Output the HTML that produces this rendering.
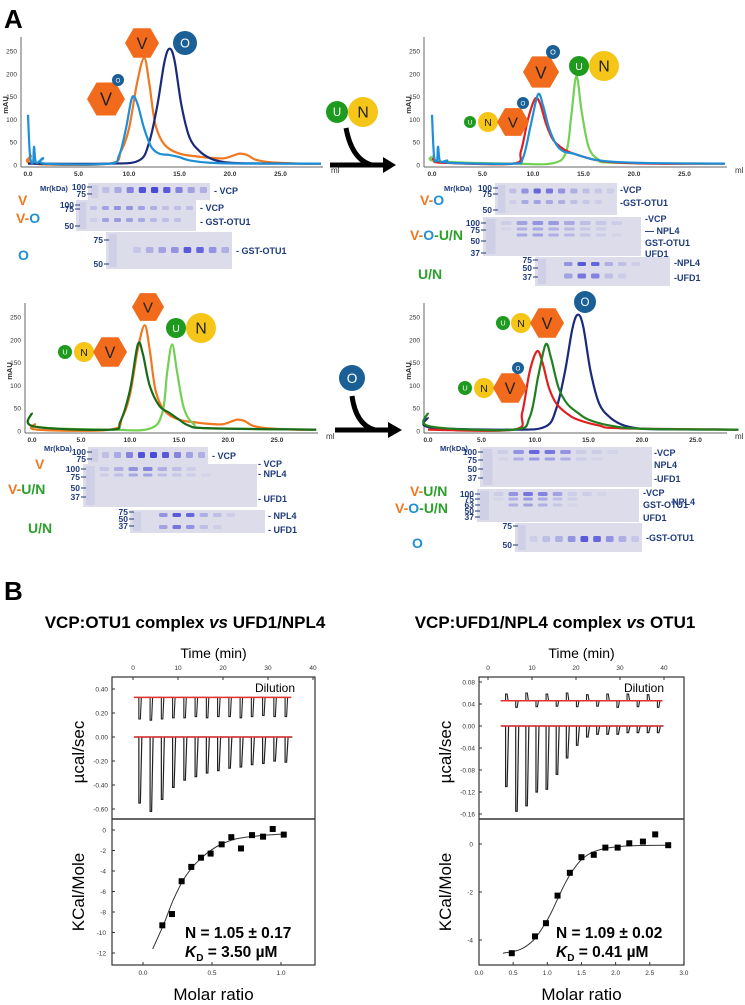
<!DOCTYPE html>
<html><head><meta charset="utf-8"><style>
html,body{margin:0;padding:0;background:#fff}
svg{display:block;font-family:"Liberation Sans",sans-serif}
</style></head><body>
<svg id="fig" width="745" height="1005" viewBox="0 0 745 1005" xmlns="http://www.w3.org/2000/svg"></svg>
<script>
// ---------- data ----------
const mlTicks=[0,5,10,15,20,25];
const mAUTicks=[0,50,100,150,200,250];
const a1_vo=[[0,110],[0.2,20],[0.5,5],[0.6,40],[0.8,5],[1.5,15],[1.7,3],[8,3],[9,20],[9.7,80],[10.2,140],[10.5,150],[10.9,130],[11.5,80],[12.2,40],[13,25],[14,22],[15,17],[16,10],[18,5],[22,3],[29,3]];
const a1_v=[[0,5],[0.3,20],[0.5,3],[8,3],[9.2,30],[10,80],[10.8,180],[11.5,235],[12,180],[12.6,90],[13.5,45],[15,25],[17,18],[18.5,15],[19.5,15],[20.5,22],[21,25],[21.7,22],[22.5,12],[24,6],[27,3],[29,3]];
const a1_o=[[0,3],[8,3],[11,10],[12,50],[12.8,130],[13.5,225],[14,255],[14.5,230],[15.2,130],[16,60],[17,30],[18,15],[19,8],[21,4],[29,3]];
const a2_voun=[[0,15],[0.3,10],[1,5],[8,3],[8.8,30],[9.5,100],[10.2,145],[10.7,135],[11.3,90],[12,55],[13,35],[14,25],[16,12],[18,6],[22,3],[29,3]];
const a2_vo=[[0,110],[0.2,20],[0.5,10],[0.6,40],[0.8,8],[1.5,10],[1.7,5],[8,3],[9,15],[9.8,90],[10.5,155],[11,130],[11.6,80],[12.3,45],[13,30],[14,25],[15,18],[16,12],[18,7],[22,4],[29,3]];
const a2_un=[[0,20],[0.5,8],[8,3],[12,4],[13.3,30],[13.8,110],[14.3,195],[14.8,120],[15.5,40],[16.5,12],[18,5],[29,3]];
const a3_vun=[[0,40],[0.2,10],[8,3],[9,20],[10,90],[10.8,190],[11.3,170],[12,100],[13,55],[14,40],[15,25],[16,12],[18,6],[29,3]];
const a3_v=[[0,5],[0.3,15],[0.5,3],[8,3],[9.2,30],[10,80],[10.8,180],[11.5,232],[12,180],[12.6,90],[13.5,45],[15,25],[17,18],[18.5,15],[19.5,15],[20.5,22],[21,25],[21.7,22],[22.5,12],[24,6],[27,3],[29,3]];
const a3_un=[[0,40],[0.2,10],[8,3],[12,5],[13.3,40],[13.8,130],[14.3,190],[14.8,130],[15.5,50],[16.5,15],[18,6],[29,3]];
const a4_voun=[[0,3],[8,3],[8.8,40],[9.5,130],[10.2,175],[10.7,150],[11.3,95],[12,60],[13,38],[14,25],[16,12],[18,6],[29,3]];
const a4_vun=[[0,40],[0.2,10],[8,3],[9.5,30],[10.3,120],[11,190],[11.5,160],[12.2,95],[13,60],[14,40],[15,25],[17,12],[20,5],[29,3]];
const a4_o=[[0,30],[0.2,8],[8,3],[11,10],[12,50],[12.8,130],[13.5,225],[14,255],[14.5,230],[15.2,130],[16,60],[17,30],[18,15],[19,8],[21,4],[29,3]];
// ITC
const itcL_depth=[-0.55,-0.62,-0.52,-0.42,-0.36,-0.33,-0.3,-0.28,-0.26,-0.25,-0.23,-0.22,-0.2,-0.21];
const itcL_dil=[0.15,0.14,0.15,0.16,0.16,0.17,0.16,0.17,0.17,0.16,0.17,0.18,0.17,0.17];
const itcL_ratio=[0.14,0.21,0.28,0.35,0.42,0.49,0.57,0.64,0.71,0.79,0.87,0.94,1.02];
const itcL_heat=[-9.3,-8.2,-5.0,-3.6,-2.7,-2.3,-1.4,-0.7,-1.8,-0.5,-0.65,0.1,-0.45];
const itcL_fitX=[0.07,0.15,0.22,0.3,0.38,0.46,0.55,0.65,0.75,0.85,0.95,1.02];
const itcL_fitY=[-11.6,-9.2,-6.8,-4.7,-3.3,-2.3,-1.5,-0.95,-0.7,-0.55,-0.45,-0.4];
const itcL_yTicks=[0.4,0.2,0,-0.2,-0.4,-0.6];
const itcL_hTicks=[0,-2,-4,-6,-8,-10,-12];
const itcL_xTicks=[0,0.5,1.0];
const itcR_depth=[-0.11,-0.155,-0.145,-0.12,-0.115,-0.088,-0.058,-0.035,-0.02,-0.015,-0.015,-0.015,-0.012,-0.012,-0.012,-0.012];
const itcR_dil=[0.058,0.034,0.06,0.035,0.058,0.036,0.06,0.035,0.057,0.036,0.058,0.034,0.058,0.035,0.057,0.034];
const itcR_ratio=[0.48,0.82,0.98,1.15,1.33,1.5,1.68,1.85,2.03,2.2,2.4,2.58,2.77];
const itcR_heat=[-4.55,-3.85,-3.3,-2.15,-1.2,-0.55,-0.45,-0.15,-0.15,0.03,0.1,0.4,-0.05];
const itcR_fitX=[0.35,0.6,0.8,0.95,1.05,1.15,1.25,1.35,1.5,1.7,2.0,2.4,2.8];
const itcR_fitY=[-4.55,-4.4,-4.0,-3.4,-2.9,-2.3,-1.7,-1.2,-0.65,-0.3,-0.12,-0.06,-0.05];
const itcR_yTicks=[0.08,0.04,0,-0.04,-0.08,-0.12,-0.16];
const itcR_hTicks=[0,-2,-4];
const itcR_xTicks=[0,0.5,1.0,1.5,2.0,2.5,3.0];
const timeTicks=[0,10,20,30,40];

// ---------- helpers ----------
const NS="http://www.w3.org/2000/svg";
const svg=document.getElementById('fig');
function el(tag,at,parent,txt){const e=document.createElementNS(NS,tag);for(const k in at)e.setAttribute(k,at[k]);if(txt!==undefined)e.textContent=txt;(parent||svg).appendChild(e);return e;}
function text(x,y,s,size,fill,weight,anchor,name){const t=el('text',{x:x,y:y,'font-size':size,fill:fill||'#000','font-weight':weight||'normal','text-anchor':anchor||'start'},svg,s);

return t;}
function smooth(P){let d='M'+P[0][0]+','+P[0][1];
 for(let i=0;i<P.length-1;i++){const p0=P[i-1]||P[i],p1=P[i],p2=P[i+1],p3=P[i+2]||p2;
  const c1=[p1[0]+(p2[0]-p0[0])/6,p1[1]+(p2[1]-p0[1])/6],c2=[p2[0]-(p3[0]-p1[0])/6,p2[1]-(p3[1]-p1[1])/6];
  d+=` C${c1[0]},${c1[1]} ${c2[0]},${c2[1]} ${p2[0]},${p2[1]}`;}
 return d;}

function chromChart(cfg,name){
 const g=el('g',{});
 
 
 const X=v=>cfg.x0+v*cfg.px, Y=v=>cfg.y0-v*cfg.py;
 el('line',{x1:cfg.ax,y1:cfg.y0-128,x2:cfg.ax,y2:cfg.y0+2,stroke:'#666','stroke-width':1},g);
 el('line',{x1:cfg.ax,y1:cfg.y0+2,x2:cfg.x1,y2:cfg.y0+2,stroke:'#666','stroke-width':1},g);
 mAUTicks.forEach(v=>{el('text',{x:cfg.ax-4,y:Y(v)+2.5,'font-size':6.5,'text-anchor':'end',fill:'#333'},g,String(v));});
 mlTicks.forEach(v=>{el('text',{x:X(v),y:cfg.y0+11,'font-size':6.5,'text-anchor':'middle',fill:'#333','font-weight':'bold'},g,v.toFixed(1));});
 el('text',{x:cfg.x1+8,y:cfg.y0+8,'font-size':8,fill:'#333'},g,'ml');
 el('text',{x:0,y:0,'font-size':7.5,'font-weight':'bold',fill:'#333','text-anchor':'middle',transform:`translate(${cfg.ax-13},${cfg.y0-60}) rotate(-90)`},g,'mAU');
 cfg.series.forEach(s=>{
  const p=el('path',{d:smooth(s.d.map(q=>[X(q[0]),Y(q[1])])),fill:'none',stroke:s.c,'stroke-width':2.2,'stroke-linejoin':'round'},g);
  
  
 });
}
function hex(cx,cy,r,name){const pts=[];for(let i=0;i<6;i++){const a=Math.PI/3*i;pts.push((cx+r*Math.cos(a))+','+(cy+r*Math.sin(a)));}
 const p=el('polygon',{points:pts.join(' '),fill:'#f26b1d'});
 
 
 el('text',{x:cx,y:cy+r*0.35,'font-size':r*0.95,'text-anchor':'middle',fill:'#222'},svg,'V');}
function circ(cx,cy,r,fill,lab,tc,name){const c=el('circle',{cx:cx,cy:cy,r:r,fill:fill});
 
 
 el('text',{x:cx,y:cy+r*0.38,'font-size':r*1.05,'text-anchor':'middle',fill:tc},svg,lab);}
const U=(x,y,r)=>circ(x,y,r,'#1e9a1e','U','#fff','ufd1-icon');
const N=(x,y,r)=>circ(x,y,r,'#f5c518','N','#222','npl4-icon');
const O=(x,y,r)=>circ(x,y,r,'#1a5f96','O','#fff','otu1-icon');

function gel(x,y,w,h,lanes,bands,name){
 const g=el('g',{});
 
 
 el('rect',{x:x,y:y,width:w,height:h,fill:'#dcdcea'},g);
 const lw=w/lanes;
 el('rect',{x:x+3,y:y+2,width:lw*0.6,height:h-4,fill:'#cfcfe6'},g);
 bands.forEach(b=>{b.v.forEach((v,i)=>{if(v>0)el('rect',{x:x+lw*(i+1)+2,y:y+b.y-b.h/2,width:lw-5,height:b.h,fill:'#4a4ad8',opacity:v,rx:1.5},g);});});
}
function gelLabels(x,y,items,anchor){items.forEach(it=>{text(x,y+it[0],it[1],9,'#1f3a7a','bold',anchor||'start','gel-band-label');});}
function markers(x,y,items){items.forEach(it=>{text(x,y+it[0]+3,it[1],8.5,'#1f3a7a','bold','end','marker-label');el('line',{x1:x+1,y1:y+it[0],x2:x+6,y2:y+it[0],stroke:'#1f3a7a'});});}
function rowLabel(x,y,parts,name){const t=el('text',{x:x,y:y,'font-size':14,'font-weight':'bold'});
 
 
 parts.forEach(p=>el('tspan',{fill:p[1]},t,p[0]));}
const OR='#f07820',BL='#1e8fd6',GR='#2aa02a';

// ---------- panel labels ----------
text(4,28,'A',26,'#000','bold','start','panel-a-label');
text(4,600,'B',26,'#000','bold','start','panel-b-label');

// ---------- chromatograms ----------
chromChart({x0:28,px:10.1,y0:165,py:114/250,ax:21,x1:323,series:[{d:a1_v,c:OR,n:'curve-vcp'},{d:a1_o,c:'#1a2a7a',n:'curve-otu1'},{d:a1_vo,c:BL,n:'curve-vcp-otu1'}]},'chromatogram-top-left');
chromChart({x0:432,px:10.1,y0:165,py:114/250,ax:424,x1:727,series:[{d:a2_un,c:'#72d052',n:'curve-ufd1-npl4'},{d:a2_voun,c:'#e02020',n:'curve-vcp-otu1-un'},{d:a2_vo,c:BL,n:'curve-vcp-otu1'}]},'chromatogram-top-right');
chromChart({x0:32,px:9.8,y0:431,py:114/250,ax:25,x1:318,series:[{d:a3_v,c:OR,n:'curve-vcp'},{d:a3_un,c:'#72d052',n:'curve-ufd1-npl4'},{d:a3_vun,c:'#1a6a1a',n:'curve-vcp-un'}]},'chromatogram-bottom-left');
chromChart({x0:428,px:10.7,y0:431,py:114/250,ax:424,x1:727,series:[{d:a4_o,c:'#1a2a7a',n:'curve-otu1'},{d:a4_voun,c:'#e02020',n:'curve-vcp-un-otu1'},{d:a4_vun,c:'#208020',n:'curve-vcp-un'}]},'chromatogram-bottom-right');

// icons
hex(142,43,17,'vcp-icon');O(185,43,12);hex(106,99,19,'vcp-icon');O(118,80,6);
hex(541,72,18,'vcp-icon');O(553,52,7);U(579,66,10);N(604,66,15);
U(470,122,6);N(488,122,10);hex(513,122,16,'vcp-icon');O(523,103,6);
hex(148,307,16,'vcp-icon');U(176,328,10);N(201,328,15);
U(65,352,7);N(84,352,10);hex(110,352,17,'vcp-icon');
O(585,302,11);U(503,323,7);N(521,323,10);hex(547,323,17,'vcp-icon');
U(465,388,7);N(484,388,10);hex(510,388,17,'vcp-icon');O(518,368,6);
// arrows
U(337,112,11);N(363,112,15);
el('path',{d:'M346,128 Q352,160 372,165',fill:'none',stroke:'#000','stroke-width':5});
el('line',{x1:330,y1:165,x2:385,y2:165,stroke:'#000','stroke-width':5});
el('polygon',{points:'383,157 396,165 383,173',fill:'#000'});
O(352,378,13);
el('path',{d:'M352,396 Q356,425 375,430',fill:'none',stroke:'#000','stroke-width':5});
el('line',{x1:335,y1:430,x2:390,y2:430,stroke:'#000','stroke-width':5});
el('polygon',{points:'388,422 402,430 388,438',fill:'#000'});

// ---------- gels ----------
text(40,191,'Mr(kDa)',7.5,'#1f3a7a','bold','start','mr-label');
gel(88,183,122,17,10,[{y:7,h:6,v:[0.2,0.35,0.6,0.95,1,0.9,0.6,0.4,0.3]}],'gel-vcp');
markers(86,183,[[4,'100'],[11,'75']]);gelLabels(214,194,[[0,'- VCP']]);
gel(76,200,120,31,10,[{y:8,h:4,v:[0.2,0.4,0.5,0.5,0.4,0.3,0.2,0.2,0.2]},{y:20,h:4,v:[0.1,0.4,0.45,0.4,0.35,0.25,0.2,0.2,0]}],'gel-vcp-otu1');
markers(74,200,[[5,'100'],[9,'75'],[26,'50']]);gelLabels(200,211,[[0,'- VCP'],[14,'- GST-OTU1']]);
gel(106,232,126,37,10,[{y:18,h:6,v:[0,0.15,0.3,0.4,0.5,0.9,0.8,0.5,0.3]}],'gel-otu1');
markers(103,232,[[8,'75'],[32,'50']]);gelLabels(236,254,[[0,'- GST-OTU1']]);
rowLabel(18,205,[['V',OR]],'row-label-v');rowLabel(16,223,[['V',OR],['-',OR],['O',BL]],'row-label-v-o');rowLabel(18,260,[['O',BL]],'row-label-o');

text(444,191,'Mr(kDa)',7.5,'#1f3a7a','bold','start','mr-label');
gel(495,183,122,32,10,[{y:8,h:5,v:[0.2,0.5,0.8,0.7,0.5,0.3,0.2,0.15,0.1]},{y:19,h:4,v:[0.1,0.35,0.4,0.35,0.3,0.2,0.15,0.1,0]}],'gel-vcp-otu1');
markers(492,183,[[5,'100'],[11,'75'],[27,'50']]);gelLabels(620,193,[[0,'-VCP'],[13,'-GST-OTU1']]);
gel(483,217,158,39,10,[{y:6,h:4,v:[0.1,0.4,0.5,0.45,0.35,0.2,0.15,0.1,0]},{y:12,h:3,v:[0.05,0.3,0.35,0.3,0.25,0.15,0.1,0,0]},{y:18,h:3,v:[0,0.35,0.4,0.3,0.25,0.15,0.1,0.05,0]}],'gel-vcp-otu1-un');
markers(480,217,[[6,'100'],[13,'75'],[24,'50'],[36,'37']]);gelLabels(645,222,[[0,'-VCP'],[12,'— NPL4'],[24,'GST-OTU1'],[35,'UFD1']]);
gel(535,257,135,29,10,[{y:7,h:4,v:[0,0.5,0.9,0.8,0.3,0.2,0.1,0,0]},{y:19,h:5,v:[0,0.4,0.7,0.6,0.2,0.1,0,0,0]}],'gel-ufd1-npl4');
markers(532,257,[[3,'75'],[11,'50'],[20,'37']]);gelLabels(674,266,[[0,'-NPL4'],[15,'-UFD1']]);
rowLabel(420,205,[['V',OR],['-',OR],['O',BL]],'row-label-v-o');rowLabel(410,240,[['V',OR],['-',OR],['O',BL],['-',GR],['U/N',GR]],'row-label-v-o-un');rowLabel(418,279,[['U/N',GR]],'row-label-un');

text(44,451,'Mr(kDa)',7.5,'#1f3a7a','bold','start','mr-label');
gel(88,447,120,17,10,[{y:8,h:6,v:[0.2,0.35,0.6,0.95,1,0.9,0.6,0.4,0.3]}],'gel-vcp');
markers(86,447,[[5,'100'],[12,'75']]);gelLabels(212,459,[[0,'- VCP']]);
gel(83,464,174,43,12,[{y:5,h:4,v:[0.15,0.3,0.5,0.6,0.3,0.2,0.1,0,0,0,0]},{y:11,h:3,v:[0.1,0.2,0.35,0.4,0.2,0.15,0.1,0.05,0,0,0]}],'gel-vcp-un');
markers(80,464,[[5,'100'],[13,'75'],[24,'50'],[33,'37']]);gelLabels(258,467,[[0,'- VCP'],[10,'- NPL4'],[35,'- UFD1']]);
gel(130,510,135,23,10,[{y:5,h:4,v:[0,0.5,0.9,0.8,0.3,0.2,0.1,0,0]},{y:17,h:4,v:[0,0.4,0.7,0.5,0.2,0.1,0,0,0]}],'gel-ufd1-npl4');
markers(128,510,[[2,'75'],[9,'50'],[16,'37']]);gelLabels(268,519,[[0,'- NPL4'],[14,'- UFD1']]);
rowLabel(35,469,[['V',OR]],'row-label-v');rowLabel(8,494,[['V',OR],['-',OR],['U/N',GR]],'row-label-v-un');rowLabel(28,533,[['U/N',GR]],'row-label-un');

text(440,451,'Mr(kDa)',7.5,'#1f3a7a','bold','start','mr-label');
gel(480,447,172,40,11,[{y:5,h:4,v:[0.1,0.5,0.8,0.7,0.5,0.1,0.1,0.05,0]},{y:12,h:3,v:[0.05,0.3,0.45,0.4,0.3,0.1,0.05,0,0]}],'gel-vcp-un');
markers(477,447,[[5,'100'],[13,'75'],[22,'50'],[31,'37']]);gelLabels(654,456,[[0,'-VCP'],[12,'NPL4'],[26,'-UFD1']]);
gel(477,489,162,33,11,[{y:5,h:4,v:[0.1,0.5,0.7,0.6,0.4,0.1,0.1,0.05,0]},{y:10,h:3,v:[0.05,0.3,0.45,0.35,0.2,0.1,0,0,0]},{y:16,h:3,v:[0,0.3,0.4,0.3,0.15,0.05,0,0,0]}],'gel-vcp-un-otu1');
markers(474,489,[[5,'100'],[10,'75'],[16,'63'],[22,'50'],[28,'37']]);gelLabels(643,496,[[0,'-VCP'],[12,'GST-OTU1'],[25,'UFD1']]);text(672,505,'NPL4',9,'#1f3a7a','bold','start','gel-band-label');
gel(515,523,127,29,10,[{y:16,h:6,v:[0.1,0.2,0.3,0.5,0.9,0.8,0.5,0.3,0.15]}],'gel-otu1');
markers(512,523,[[3,'75'],[22,'50']]);gelLabels(646,541,[[0,'-GST-OTU1']]);
rowLabel(410,496,[['V',OR],['-',OR],['U/N',GR]],'row-label-v-un');rowLabel(395,513,[['V',OR],['-',OR],['O',BL],['-',GR],['U/N',GR]],'row-label-v-o-un');rowLabel(412,548,[['O',BL]],'row-label-o');

// ---------- ITC ----------
const tL=text(185,628,'',17,'#000','bold','middle','title-left');
el('tspan',{},tL,'VCP:OTU1 complex ');el('tspan',{'font-style':'italic'},tL,'vs');el('tspan',{},tL,' UFD1/NPL4');
const tR=text(555,628,'',17,'#000','bold','middle','title-right');
el('tspan',{},tR,'VCP:UFD1/NPL4 complex ');el('tspan',{'font-style':'italic'},tR,'vs');el('tspan',{},tR,' OTU1');

function itc(c){
 const g=el('g',{});
 
 
 const L=c.left,R=c.right,T=677,M=819,B=965;
 const T0=v=>c.t0+v*c.tpx;
 const UY=v=>c.u0-v*c.upx;
 const HX=v=>c.h0x+v*c.hpx, HY=v=>c.h0-v*c.hpy;
 el('rect',{x:L,y:T,width:R-L,height:B-T,fill:'none',stroke:'#333','stroke-width':1.2},g);
 el('line',{x1:L,y1:M,x2:R,y2:M,stroke:'#333','stroke-width':1.5},g);
 el('text',{x:(L+R)/2,y:658,'font-size':14,'text-anchor':'middle'},g,'Time (min)');
 timeTicks.forEach(v=>{el('text',{x:T0(v),y:670,'font-size':6.5,'text-anchor':'middle',fill:'#333'},g,String(v));el('line',{x1:T0(v),y1:T,x2:T0(v),y2:T+3,stroke:'#333'},g);});
 c.uT.forEach(v=>{el('text',{x:L-4,y:UY(v)+2.5,'font-size':6.5,'text-anchor':'end',fill:'#333'},g,v.toFixed(2));el('line',{x1:L,y1:UY(v),x2:L+3,y2:UY(v),stroke:'#333'},g);});
 c.hT.forEach(v=>{el('text',{x:L-6,y:HY(v)+2.5,'font-size':6.5,'text-anchor':'end',fill:'#333'},g,String(v));el('line',{x1:L,y1:HY(v),x2:L+3,y2:HY(v),stroke:'#333'},g);});
 c.xT.forEach(v=>{el('text',{x:HX(v),y:975,'font-size':6.5,'text-anchor':'middle',fill:'#333'},g,v.toFixed(1));el('line',{x1:HX(v),y1:B,x2:HX(v),y2:B-3,stroke:'#333'},g);});
 el('text',{x:R-20,y:692,'font-size':12,'text-anchor':'end'},g,'Dilution');
 el('text',{x:0,y:0,'font-size':17,'text-anchor':'middle',transform:`translate(${L-28},${(T+M)/2+4}) rotate(-90)`},g,'\u00b5cal/sec');
 el('text',{x:0,y:0,'font-size':17,'text-anchor':'middle',transform:`translate(${L-28},${(M+B)/2}) rotate(-90)`},g,'KCal/Mole');
 el('text',{x:(L+R)/2,y:1000,'font-size':17,'text-anchor':'middle'},g,'Molar ratio');
 c.depth.forEach((d,i)=>{const x=T0(c.ts+i*c.dt);
  const p=el('path',{d:`M${x-4},${UY(0)} L${x},${UY(0)} L${x},${UY(d)} L${x+1.5},${UY(d)} L${x+3},${UY(0)} L${x+c.dt*c.tpx-4},${UY(0)}`,fill:'none',stroke:'#222','stroke-width':1.2},g);
  
  
  const dd=c.dil[i];
  el('path',{d:`M${x-4},${UY(c.db)} L${x},${UY(c.db)} L${x},${UY(dd)} L${x+1.5},${UY(dd)} L${x+2.5},${UY(c.db)}`,fill:'none',stroke:'#222','stroke-width':1.1},g);});
 el('line',{x1:T0(c.ts)-5,y1:UY(0),x2:T0(c.ts+c.depth.length*c.dt)-5,y2:UY(0),stroke:'#e03030','stroke-width':1.5},g);
 el('line',{x1:T0(c.ts)-5,y1:UY(c.db),x2:T0(c.ts+c.depth.length*c.dt)-5,y2:UY(c.db),stroke:'#e03030','stroke-width':1.5},g);
 const fit=el('path',{d:smooth(c.fx.map((v,i)=>[HX(v),HY(c.fy[i])])),fill:'none',stroke:'#333','stroke-width':1},g);
 
 
 c.rx.forEach((v,i)=>{const r=el('rect',{x:HX(v)-3,y:HY(c.ry[i])-3,width:6,height:6,fill:'#000'},g);
  
  });
 el('text',{x:c.nx,y:938,'font-size':15.5,'font-weight':'bold'},g,c.ntxt);
 const k=el('text',{x:c.nx,y:957,'font-size':15.5,'font-weight':'bold'},g);
 el('tspan',{'font-style':'italic'},k,'K');el('tspan',{'font-size':10,dy:4},k,'D');el('tspan',{dy:-4},k,' = '+c.kd);
}
itc({name:'itc-left',left:112,right:315,t0:133,tpx:4.5,ts:1.3,dt:2.5,u0:737,upx:120,depth:itcL_depth,dil:itcL_dil,db:0.33,uT:itcL_yTicks,h0:830,hpy:10.25,hT:itcL_hTicks,h0x:143,hpx:138,xT:itcL_xTicks,fx:itcL_fitX,fy:itcL_fitY,rx:itcL_ratio,ry:itcL_heat,nx:185,ntxt:'N  = 1.05 \u00b1 0.17',kd:'3.50 \u00b5M'});
itc({name:'itc-right',left:479,right:684,t0:488,tpx:4.4,ts:4,dt:2.3,u0:726,upx:550,depth:itcR_depth,dil:itcR_dil,db:0.046,uT:itcR_yTicks,h0:844,hpy:24,hT:itcR_hTicks,h0x:479,hpx:68.3,xT:itcR_xTicks,fx:itcR_fitX,fy:itcR_fitY,rx:itcR_ratio,ry:itcR_heat,nx:556,ntxt:'N  = 1.09 \u00b1 0.02',kd:'0.41 \u00b5M'});
</script>
</body></html>
